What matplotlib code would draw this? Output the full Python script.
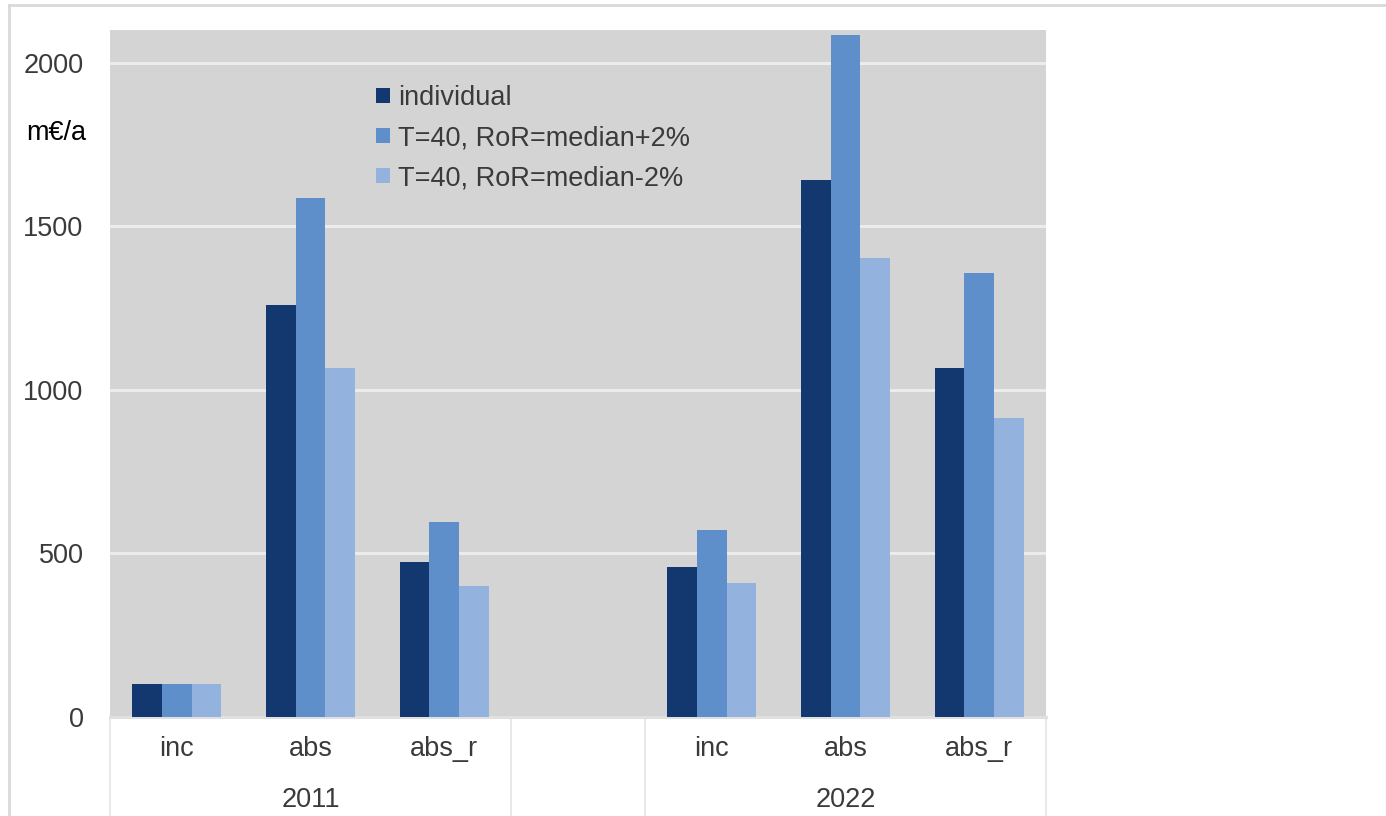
import matplotlib
matplotlib.use("Agg")
import matplotlib.pyplot as plt
from matplotlib.lines import Line2D
import numpy as np

# --- data -------------------------------------------------------------
years = ["2011", "2022"]
measures = ["inc", "abs", "abs_r"]
series_names = ["individual", "T=40, RoR=median+2%", "T=40, RoR=median-2%"]
individual = [100, 1258, 473, 457, 1641, 1068]
ror_plus = [100, 1585, 597, 573, 2085, 1357]
ror_minus = [100, 1066, 401, 411, 1402, 914]
y_ticks = [0, 500, 1000, 1500, 2000]
unit_label = "m€/a"

colors = ["#12386f", "#5f8fca", "#93b2de"]
bg = "#d4d4d4"
grid_c = "#ececec"
text_c = "#3a3a3a"

plt.rcParams["font.family"] = ["Liberation Sans", "DejaVu Sans"]
FS = 19.5

W, H = 1386, 816
fig = plt.figure(figsize=(W / 100, H / 100), dpi=100)

# plot area in pixels
x0, x1, ytop, ybot = 110, 1046, 30, 717
ax = fig.add_axes([x0 / W, (H - ybot) / H, (x1 - x0) / W, (ybot - ytop) / H])
ax.set_facecolor(bg)

# slot positions: one blank slot between the two years
n_m = len(measures)
positions = []
for yi in range(len(years)):
    for mi in range(n_m):
        positions.append(yi * (n_m + 1) + mi)
positions = np.array(positions, dtype=float)
n_slots = len(years) * (n_m + 1) - 1

bw = 0.667 / 3
for si, (vals, c, name) in enumerate(zip([individual, ror_plus, ror_minus], colors, series_names)):
    ax.bar(positions + (si - 1) * bw, vals, width=bw, color=c, label=name,
           edgecolor="none", zorder=3)

ax.set_xlim(-0.5, n_slots - 0.5)
ax.set_ylim(0, 2100)
ax.set_yticks(y_ticks)
ax.yaxis.grid(True, color=grid_c, linewidth=2.2, zorder=1)
ax.set_axisbelow(True)
ax.tick_params(axis="y", length=0, pad=19, labelsize=FS, labelcolor=text_c)
ax.set_xticks([])
for s in ["top", "right", "left"]:
    ax.spines[s].set_visible(False)
ax.spines["bottom"].set_color("#e0e0e0")
ax.spines["bottom"].set_linewidth(2.2)

# category labels and group labels below the axis
ax_h = ybot - ytop
trans = ax.get_xaxis_transform()
for p, lab in zip(positions, measures * len(years)):
    ax.text(p, -(749 - ybot) / ax_h, lab, transform=trans, ha="center", va="center",
            fontsize=FS, color=text_c)
for yi, yr in enumerate(years):
    centre = yi * (n_m + 1) + (n_m - 1) / 2
    ax.text(centre, -(800 - ybot) / ax_h, yr, transform=trans, ha="center", va="center",
            fontsize=FS, color=text_c)

# separators between groups in the category axis
bottom_ax = -(H - ybot) / ax_h
for xs in [-0.5, n_m - 0.5, n_m + 0.5, n_slots - 0.5]:
    ax.plot([xs, xs], [0, bottom_ax], transform=trans, color="#e6e6e6",
            linewidth=1.3, clip_on=False, zorder=0)

# unit label
fig.text(26 / W, 1 - 133 / H, unit_label, ha="left", va="center", fontsize=FS, color="black")

# legend
leg = ax.legend(loc="upper left", bbox_to_anchor=(376 / W, 1 - 85 / H),
                bbox_transform=fig.transFigure, frameon=False, fontsize=FS,
                handlelength=0.5, handleheight=0.5, handletextpad=0.3,
                labelspacing=0.52, borderpad=0, borderaxespad=0)
for t in leg.get_texts():
    t.set_color(text_c)

# outer frame (top and left edges)
fig.add_artist(Line2D([9 / W, 9 / W], [0, 1 - 5 / H], transform=fig.transFigure,
                      color="#d9d9d9", linewidth=2))
fig.add_artist(Line2D([9 / W, 1], [1 - 5 / H, 1 - 5 / H], transform=fig.transFigure,
                      color="#d9d9d9", linewidth=2))

fig.savefig("out.png", dpi=100, facecolor="white")
